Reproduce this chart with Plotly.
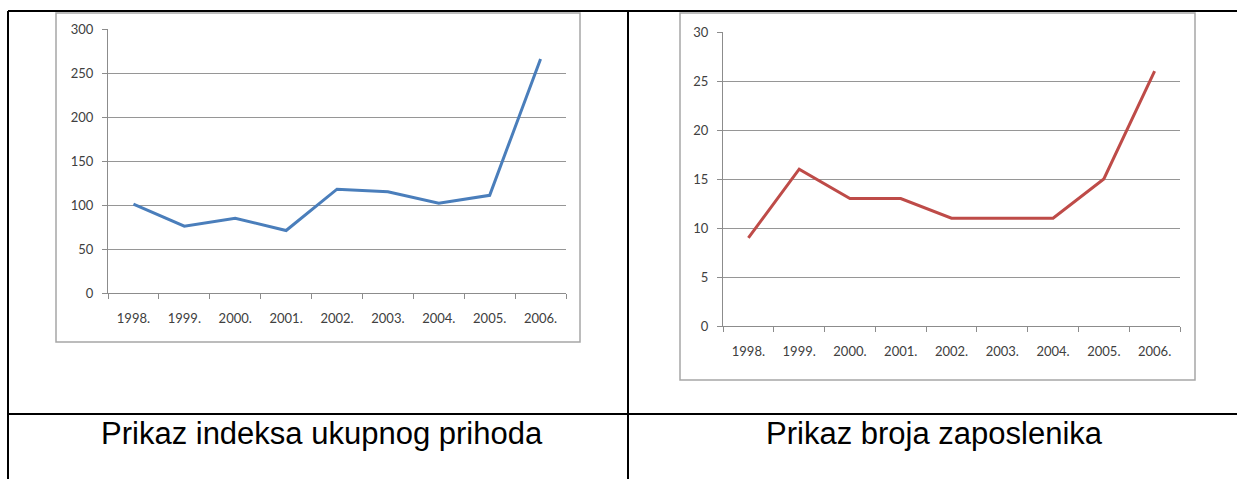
import plotly.graph_objects as go

W, H = 1237, 479

years = ["1998.", "1999.", "2000.", "2001.", "2002.", "2003.", "2004.", "2005.", "2006."]
prihod_index = [101, 76, 85, 71, 118, 115, 102, 111, 266]
broj_zaposlenika = [9, 16, 13, 13, 11, 11, 11, 15, 26]
captions = ["Prikaz indeksa ukupnog prihoda", "Prikaz broja zaposlenika"]

def px(x):
    return x / W

def py(y):
    return 1 - y / H

fig = go.Figure()
fig.add_trace(go.Scatter(x=years, y=prihod_index, mode="lines",
                         line=dict(color="#4A7EBB", width=3), xaxis="x", yaxis="y"))
fig.add_trace(go.Scatter(x=years, y=broj_zaposlenika, mode="lines",
                         line=dict(color="#BE4B48", width=3), xaxis="x2", yaxis="y2"))

tick_font = dict(family="Lato", size=13, color="#404040")
xax = dict(type="category", tickson="boundaries", ticks="outside", ticklen=5,
           tickcolor="#8c8c8c", showline=True, linecolor="#8c8c8c", linewidth=1,
           showgrid=False, tickfont=tick_font, fixedrange=True, automargin=False,
           range=[-0.5, 8.5], ticklabelstandoff=13)
yax = dict(ticks="outside", ticklen=5, tickcolor="#8c8c8c", showline=True,
           linecolor="#8c8c8c", linewidth=1, showgrid=True, gridcolor="#969696",
           gridwidth=1, zeroline=False, tickfont=tick_font, fixedrange=True,
           automargin=False, ticklabelstandoff=6)

fig.update_layout(
    width=W, height=H,
    margin=dict(l=0, r=0, t=0, b=0, autoexpand=False),
    paper_bgcolor="white", plot_bgcolor="white",
    showlegend=False,
    xaxis=dict(xax, domain=[px(108), px(566)], anchor="y"),
    yaxis=dict(yax, domain=[py(293), py(29)], range=[0, 300], dtick=50, anchor="x"),
    xaxis2=dict(xax, domain=[px(723), px(1180)], anchor="y2"),
    yaxis2=dict(yax, domain=[py(326), py(32)], range=[0, 30], dtick=5, anchor="x2"),
)

# chart frames
for x0, x1, y1 in [(56, 580, 342), (680, 1195, 380)]:
    fig.add_shape(type="rect", xref="paper", yref="paper",
                  x0=px(x0), x1=px(x1), y0=py(y1), y1=py(13),
                  line=dict(color="#A6A6A6", width=1.5))

# table borders
black = dict(color="black", width=2)
fig.add_shape(type="line", xref="paper", yref="paper", x0=px(8), x1=1, y0=py(11), y1=py(11), line=black)
fig.add_shape(type="line", xref="paper", yref="paper", x0=px(8), x1=1, y0=py(414), y1=py(414), line=black)
fig.add_shape(type="line", xref="paper", yref="paper", x0=px(8), x1=px(8), y0=py(11), y1=0, line=black)
fig.add_shape(type="line", xref="paper", yref="paper", x0=px(628), x1=px(628), y0=py(11), y1=0, line=black)

for text, cx in zip(captions, [322, 934]):
    fig.add_annotation(text=text, xref="paper", yref="paper", x=px(cx), y=py(433),
                       xanchor="center", yanchor="middle", showarrow=False,
                       font=dict(family="Liberation Sans", size=31, color="black"))

fig.write_html("out.html", config={"displayModeBar": False},
               post_script="document.body.style.margin='0';document.body.style.overflow='hidden';")
